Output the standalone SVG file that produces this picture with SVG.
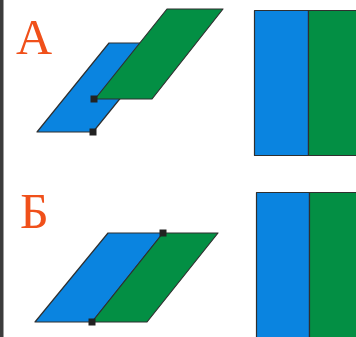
<svg xmlns="http://www.w3.org/2000/svg" width="356" height="337" viewBox="0 0 356 337">
<style>
.lbl{font-family:"Liberation Serif","DejaVu Serif",serif;font-size:50px;fill:#f0501a}
.b{fill:#0a84e0;stroke:#2f2f2f;stroke-width:1.2;stroke-linejoin:round}
.g{fill:#038f44;stroke:#2f2f2f;stroke-width:1.2;stroke-linejoin:round}
.m{fill:#222}
</style>
<rect x="0" y="0" width="356" height="337" fill="#ffffff"/>
<rect x="0" y="0" width="3.5" height="337" fill="#3c3c3c"/>
<g id="label-A"><text class="lbl" x="16" y="54">А</text></g>
<g id="label-B"><text class="lbl" x="20" y="228">Б</text></g>
<g id="A-blue"><polygon class="b" points="37,132 93,132 165,43 109,43"/></g>
<g id="A-green"><polygon class="g" points="95,99 152,99 223,9 167,9"/></g>
<g id="A-markers"><rect class="m" x="90.5" y="95.5" width="7" height="7"/><rect class="m" x="89.5" y="128.5" width="7" height="7"/></g>
<g id="B-blue"><polygon class="b" points="35,322 92,322 163,233 108,233"/></g>
<g id="B-green"><polygon class="g" points="92,322 147,322 218,233 163,233"/></g>
<g id="B-markers"><rect class="m" x="159.5" y="229.5" width="7" height="7"/><rect class="m" x="88.5" y="318.5" width="7" height="7"/></g>
<g id="A-rect"><rect class="b" x="254.5" y="10.5" width="54" height="145"/><rect class="g" x="308.5" y="10.5" width="60" height="145"/></g>
<g id="B-rect"><rect class="b" x="256.5" y="192.5" width="53" height="160"/><rect class="g" x="309.5" y="192.5" width="60" height="160"/></g>
<g id="connectors"></g>
</svg>
